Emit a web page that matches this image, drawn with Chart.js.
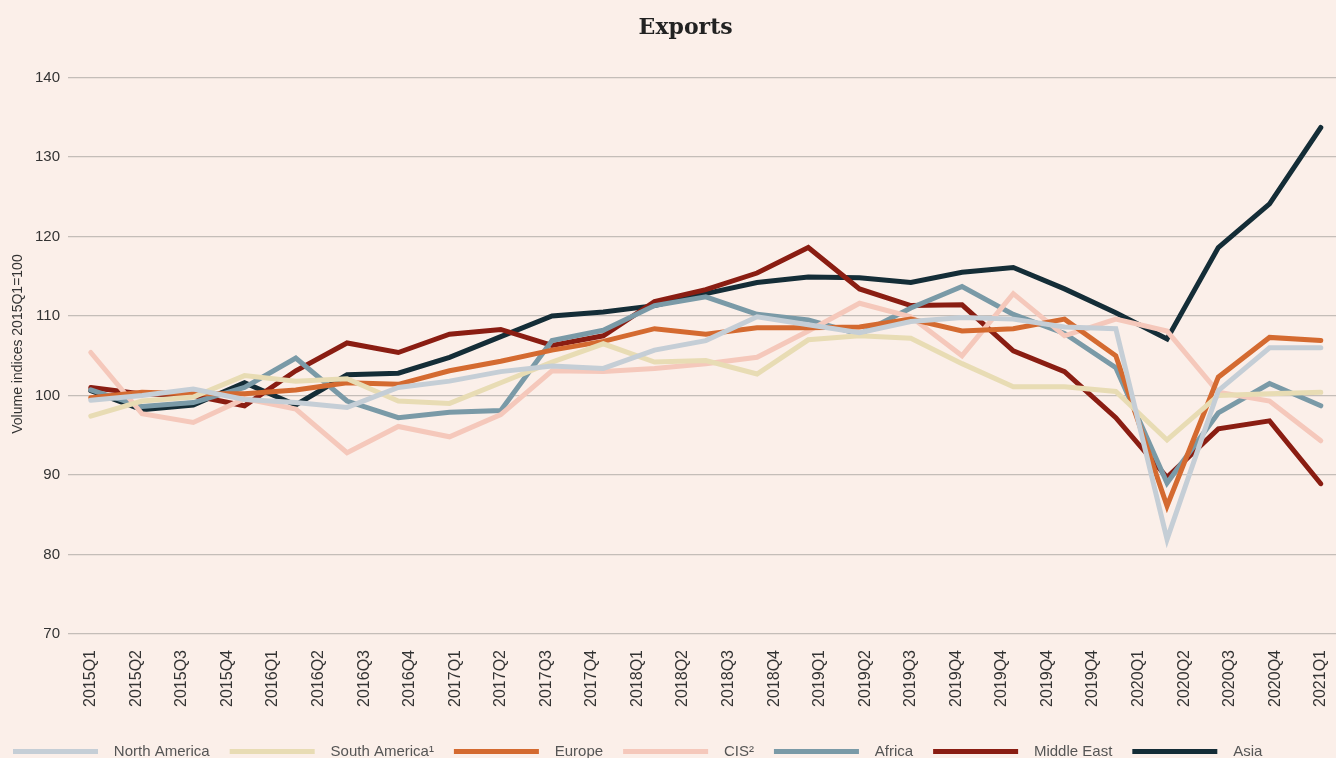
<!DOCTYPE html>
<html>
<head>
<meta charset="utf-8">
<title>Exports</title>
<script src="https://cdn.jsdelivr.net/npm/chart.js@4.4.1/dist/chart.umd.min.js"></script>
<style>
  html, body { margin: 0; padding: 0; background: #fbefe9; overflow: hidden; }
  #box { width: 1356px; height: 769px; position: relative; }
</style>
</head>
<body>
<div id="box"><canvas id="grafico"></canvas></div>
<script>
// tick labels as printed under the chart (2019Q4 really is repeated four times)
var etichette = ['2015Q1', '2015Q2', '2015Q3', '2015Q4', '2016Q1', '2016Q2', '2016Q3', '2016Q4',
    '2017Q1', '2017Q2', '2017Q3', '2017Q4', '2018Q1', '2018Q2', '2018Q3', '2018Q4',
    '2019Q1', '2019Q2', '2019Q3', '2019Q4', '2019Q4', '2019Q4', '2019Q4',
    '2020Q1', '2020Q2', '2020Q3', '2020Q4', '2021Q1'];

// quarterly volume indices, 2015Q1 .. 2021Q1 (25 quarters)
var northAmerica = [99.4, 100.0, 100.8, 99.5, 99.1, 98.5, 101.0, 101.8, 103.0, 103.7, 103.4, 105.7, 106.9,
    109.9, 108.9, 107.9, 109.3, 109.8, 109.6, 108.6, 108.4, 81.9, 100.6, 106.0, 106.0];
var southAmerica = [97.4, 99.3, 99.8, 102.5, 101.8, 102.1, 99.3, 99.0, 101.6, 104.2, 106.5, 104.2, 104.4,
    102.7, 107.0, 107.5, 107.2, 104.0, 101.1, 101.1, 100.5, 94.4, 100.0, 100.2, 100.4];
var europe = [99.7, 100.4, 100.2, 100.2, 100.7, 101.6, 101.4, 103.1, 104.3, 105.7, 106.8, 108.4, 107.7,
    108.5, 108.5, 108.6, 109.6, 108.1, 108.4, 109.6, 105.0, 86.1, 102.3, 107.3, 106.9];
var cis = [105.4, 97.7, 96.6, 99.6, 98.3, 92.8, 96.1, 94.8, 97.6, 103.1, 103.0, 103.4, 104.0,
    104.8, 108.1, 111.6, 109.9, 105.0, 112.8, 107.5, 109.6, 108.1, 100.4, 99.3, 94.3];
var africa = [100.7, 98.6, 99.1, 101.0, 104.7, 99.3, 97.2, 97.9, 98.1, 106.9, 108.2, 111.3, 112.4,
    110.2, 109.5, 107.7, 111.0, 113.7, 110.2, 107.8, 103.5, 89.0, 97.8, 101.5, 98.7];
var middleEast = [101.0, 100.2, 100.0, 98.7, 103.1, 106.6, 105.4, 107.7, 108.3, 106.3, 107.5, 111.8, 113.3,
    115.4, 118.6, 113.4, 111.3, 111.4, 105.6, 103.0, 97.2, 89.7, 95.8, 96.8, 88.9];
var asia = [100.6, 98.2, 98.8, 101.6, 98.8, 102.6, 102.8, 104.8, 107.4, 110.0, 110.5, 111.3, 112.8,
    114.2, 114.9, 114.8, 114.2, 115.5, 116.1, 113.4, 110.4, 107.1, 118.6, 124.1, 133.7];

var nomiSerie = ['North America', 'South America\u00b9', 'Europe', 'CIS\u00b2', 'Africa', 'Middle East', 'Asia'];
var valoriSerie = [northAmerica, southAmerica, europe, cis, africa, middleEast, asia];
var coloriSerie = ['#c5ced6', '#e8dcb4', '#d46a30', '#f5c8bb', '#7a9aa7', '#8a1d12', '#142d37'];

var datasets = [];
for (var s = 0; s < nomiSerie.length; s++) {
    var punti = [];
    for (var i = 0; i < valoriSerie[s].length; i++) {
        punti.push({ x: i, y: valoriSerie[s][i] });
    }
    datasets.push({
        label: nomiSerie[s],
        data: punti,
        xAxisID: 'xd',
        borderColor: coloriSerie[s],
        backgroundColor: coloriSerie[s],
        borderWidth: 5,
        borderCapStyle: 'round',
        pointRadius: 0,
        tension: 0
    });
}

// the 25 data points are spread over the same width as the 28 tick labels
var nPunti = asia.length;
var nTick = etichette.length;
var mezzo = 0.5 * (nPunti - 1) / (nTick - 1);

var testo = '#333333';

// legend sits a bit further left than chart.js puts it
var spostaLegenda = {
    id: 'spostaLegenda',
    afterLayout: function (ch) {
        ch.legend.left = -7;
    }
};

var ctx = document.getElementById('grafico');
var chart = new Chart(ctx, {
    type: 'line',
    data: {
        labels: etichette,
        datasets: datasets
    },
    plugins: [spostaLegenda],
    options: {
        responsive: true,
        maintainAspectRatio: false,
        animation: false,
        scales: {
            x: {
                type: 'category',
                offset: true,
                grid: { display: false, drawTicks: false },
                border: { display: false },
                ticks: {
                    autoSkip: false,
                    minRotation: 90,
                    maxRotation: 90,
                    padding: 16,
                    color: testo,
                    font: { family: 'Liberation Sans, Arial, sans-serif', size: 16 }
                },
                afterFit: function (scale) { scale.height = 90; }
            },
            xd: {
                type: 'linear',
                display: false,
                min: -mezzo,
                max: (nPunti - 1) + mezzo
            },
            y: {
                min: 70,
                max: 140,
                ticks: {
                    stepSize: 10,
                    padding: 8,
                    color: testo,
                    font: { family: 'Liberation Sans, Arial, sans-serif', size: 15 }
                },
                grid: { color: '#c4bdb8', lineWidth: 1.3, drawTicks: false },
                border: { display: false },
                title: {
                    display: true,
                    text: '      Volume indices 2015Q1=100',
                    color: testo,
                    padding: { top: 10, bottom: 0 },
                    font: { family: 'Liberation Sans, Arial, sans-serif', size: 14 }
                },
                afterFit: function (scale) { scale.width = 68; }
            }
        },
        plugins: {
            title: {
                display: true,
                text: '  Exports',
                color: '#222222',
                padding: { top: 15, bottom: 36 },
                font: { family: 'DejaVu Serif, serif', size: 22, weight: 'bold' }
            },
            legend: {
                position: 'bottom',
                align: 'start',
                labels: {
                    usePointStyle: true,
                    pointStyle: 'line',
                    pointStyleWidth: 85,
                    padding: 20,
                    color: '#555555',
                    font: { family: 'Liberation Sans, Arial, sans-serif', size: 15 },
                    generateLabels: function (ch) {
                        var voci = Chart.defaults.plugins.legend.labels.generateLabels(ch);
                        for (var k = 0; k < voci.length; k++) {
                            voci[k].text = '  ' + voci[k].text;
                        }
                        return voci;
                    }
                }
            },
            tooltip: { enabled: false }
        }
    }
});
</script>
</body>
</html>
